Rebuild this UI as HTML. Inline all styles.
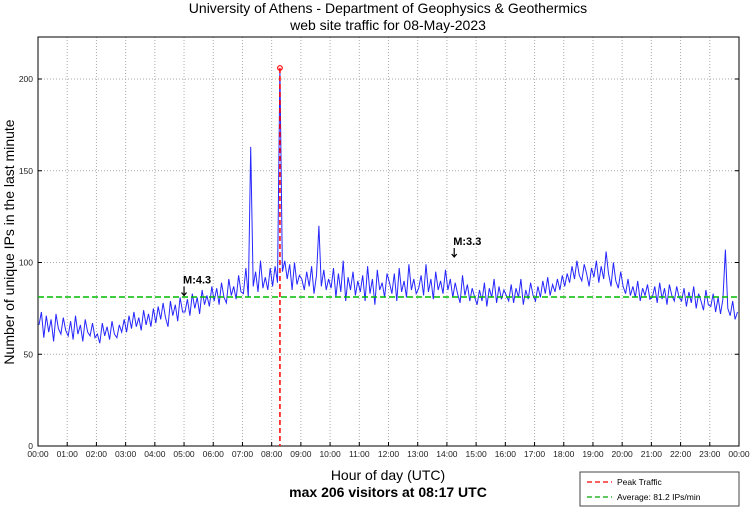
<!DOCTYPE html>
<html><head><meta charset="utf-8">
<style>
body{margin:0;background:#fff;width:750px;height:511px;overflow:hidden;font-family:"Liberation Sans",sans-serif}
svg text{font-family:"Liberation Sans",sans-serif}
</style></head>
<body>
<svg id="chart" width="750" height="511" viewBox="0 0 750 511" xmlns="http://www.w3.org/2000/svg">
<text x="388" y="13" font-size="14" text-anchor="middle">University of Athens - Department of Geophysics &amp; Geothermics</text>
<text x="388" y="30" font-size="14" text-anchor="middle">web site traffic for 08-May-2023</text>
<g id="grid"></g>
<g id="axes"></g>
<g id="series"></g>
<text transform="translate(14,242) rotate(-90)" font-size="14" text-anchor="middle">Number of unique IPs in the last minute</text>
<text x="388" y="480" font-size="14" text-anchor="middle">Hour of day (UTC)</text>
<text x="388" y="497" font-size="14" text-anchor="middle" font-weight="bold">max 206 visitors at 08:17 UTC</text>
<g>
<rect x="580" y="472" width="159" height="34" fill="#fff" stroke="#444" stroke-width="1"/>
<line x1="587" y1="482" x2="612" y2="482" stroke="#f00" stroke-dasharray="5,3" stroke-width="1.2"/>
<text x="617" y="485" font-size="8.5">Peak Traffic</text>
<line x1="587" y1="497" x2="612" y2="497" stroke="#0a0" stroke-dasharray="5,3" stroke-width="1.2"/>
<text x="617" y="500" font-size="8.5">Average: 81.2 IPs/min</text>
</g>
</svg>
<script>
// 5-minute samples (visitors per minute), 12 per hour
const values = [
66,73,59,71,62,69,57,72,64,61,70,63,
60,68,58,71,61,66,57,69,62,60,67,59,
61,56,67,60,65,58,68,61,59,66,62,69,
62,71,64,73,65,70,63,74,66,72,65,75,
67,76,69,78,70,65,79,71,77,68,81,73,
73,80,71,83,75,81,72,85,77,82,76,87,
79,86,77,89,81,78,91,82,87,80,93,84,
83,97,81,163,87,95,84,101,86,92,85,97,
87,98,89,206,95,101,91,99,85,100,88,93,
91,85,95,87,98,83,93,120,87,96,85,91,
86,97,81,94,84,101,79,92,85,95,82,90,
84,93,79,98,83,91,77,96,85,89,81,94,
89,83,94,79,97,84,90,81,99,85,91,83,
86,93,82,99,84,91,80,95,85,90,83,96,
85,91,81,89,83,78,93,82,88,79,86,81,
77,85,79,89,76,86,81,91,78,87,80,85,
82,79,88,78,86,81,91,77,85,80,89,82,
79,87,81,90,83,92,82,88,84,91,85,93,
87,94,89,98,91,101,93,90,99,94,87,97,
92,101,89,98,91,106,94,87,100,90,86,95,
87,83,91,82,87,81,90,79,86,82,88,80,
81,87,78,89,80,86,77,88,82,79,87,81,
79,86,76,84,78,87,75,83,79,74,85,77,
76,83,73,81,72,80,107,75,71,79,69,73
];
const yTicks = [0,50,100,150,200];
const hourLabels = ["00:00","01:00","02:00","03:00","04:00","05:00","06:00","07:00","08:00","09:00","10:00","11:00","12:00","13:00","14:00","15:00","16:00","17:00","18:00","19:00","20:00","21:00","22:00","23:00","00:00"];
const averageValue = 81.2;
const peakValue = 206;
const peakMinute = 497; // 08:17
const quakes = [{label:"M:4.3",minute:300,value:82},{label:"M:3.3",minute:855,value:103}];

const X0=38,X1=739,Y0=446,Y1=37;
const x = m => X0 + m/1440*(X1-X0);
const y = v => Y0 - v*(Y0-79)/200;
const NS="http://www.w3.org/2000/svg";
function mk(tag, parent, attrs){const e=document.createElementNS(NS,tag);for(const k in attrs)e.setAttribute(k,attrs[k]);parent.appendChild(e);return e;}
const grid=document.getElementById('grid'), axes=document.getElementById('axes'), series=document.getElementById('series');

hourLabels.forEach((lab,i)=>{
  const xx=x(i*60);
  if(i>0&&i<24){const g=mk('line',grid,{x1:xx,y1:Y1,x2:xx,y2:Y0,stroke:'#aaa','stroke-dasharray':'1,2','stroke-width':1});
  
  }
  mk('line',axes,{x1:xx,y1:Y0,x2:xx,y2:Y0-4,stroke:'#000'});
  const t=mk('text',axes,{x:xx,y:Y0+11,'font-size':8.5,'text-anchor':'middle',fill:'#222'});
  t.textContent=lab;
  
  
});
yTicks.forEach(v=>{
  const yy=y(v);
  if(v>0){const g=mk('line',grid,{x1:X0,y1:yy,x2:X1,y2:yy,stroke:'#aaa','stroke-dasharray':'1,2','stroke-width':1});
  
  }
  mk('line',axes,{x1:X0,y1:yy,x2:X0+4,y2:yy,stroke:'#000'});
  mk('line',axes,{x1:X1,y1:yy,x2:X1-4,y2:yy,stroke:'#000'});
  const t=mk('text',axes,{x:X0-5,y:yy+3,'font-size':8.5,'text-anchor':'end',fill:'#222'});
  t.textContent=v;
  
  
});
mk('rect',axes,{x:X0,y:Y1,width:X1-X0,height:Y0-Y1,fill:'none',stroke:'#000','stroke-width':1});

let d='';
values.forEach((v,i)=>{d+=(i?'L':'M')+x(i*5+2).toFixed(1)+','+y(v).toFixed(1);});
const p=mk('path',series,{d:d,fill:'none',stroke:'#0000ff','stroke-width':1,'stroke-opacity':0.85});



const av=mk('line',series,{x1:X0,y1:y(averageValue),x2:X1,y2:y(averageValue),stroke:'#0b0','stroke-dasharray':'6,3','stroke-width':1.5});


const pk=mk('line',series,{x1:x(peakMinute),y1:y(peakValue),x2:x(peakMinute),y2:Y0,stroke:'#f00','stroke-dasharray':'5,3','stroke-width':1.5});


const pc=mk('circle',series,{cx:x(peakMinute),cy:y(peakValue),r:2.3,fill:'none',stroke:'#f00','stroke-width':1.2});



quakes.forEach(q=>{
  const xx=x(q.minute), yy=y(q.value);
  const t=mk('text',series,{x:xx-1,y:yy-12,'font-size':11,'font-weight':'bold'});
  t.textContent=q.label;
  
  
  const a=mk('path',series,{d:`M${xx},${yy-9}L${xx},${yy}M${xx-2.5},${yy-3}L${xx},${yy}L${xx+2.5},${yy-3}`,fill:'none',stroke:'#000','stroke-width':1.2});
  
  
});
</script>
</body></html>
